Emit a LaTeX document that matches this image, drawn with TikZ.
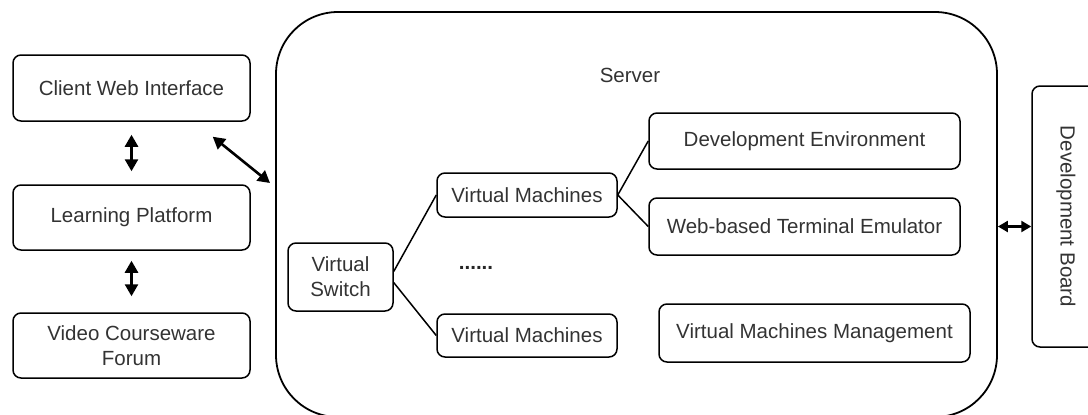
\documentclass[tikz,border=0pt]{standalone}
\usepackage{fontspec}
\setmainfont{Liberation Sans}
\usetikzlibrary{arrows.meta}

\begin{document}
\begin{tikzpicture}[x = 1pt, y = -1pt,
		box/.style = {draw, rounded corners = 8, line width = 1.5pt, align = center, inner sep = 0, text = black!80, font = \fontsize{20.5}{25}\selectfont},
		link/.style = {line width = 1.5pt},
		dbl/.style = {{Triangle[length = 12pt, width = 13pt]}-{Triangle[length = 12pt, width = 13pt]}, line width = 2.6pt}]
			\useasboundingbox (0,0) rectangle (1088,415);
			\clip (0,0) rectangle (1088,415);
			
			\node[box, minimum width = 237, minimum height = 66] (cwi) at (131.5,88) {Client Web Interface};
			\node[box, minimum width = 237, minimum height = 65] (lp) at (131.5,217.5) {Learning Platform};
			\node[box, minimum width = 237, minimum height = 65] (vcf) at (131.5,345.5) {Video Courseware\\Forum};
			
			\node[draw, rounded corners = 62, line width = 1.8pt, minimum width = 721, minimum height = 405] (server) at (636.5,214.5) {}; % server frame
			\node[text = black!80, font = \fontsize{20.5}{25}\selectfont] (srvlabel) at (630,75) {Server};
			
			\node[box, minimum width = 105, minimum height = 68] (vs) at (340.5,277) {Virtual\\Switch};
			\node[box, minimum width = 180, minimum height = 44] (vm1) at (527,195) {Virtual Machines};
			\node[box, minimum width = 180, minimum height = 43] (vm2) at (527,335.5) {Virtual Machines};
			\node[text = black!85, font = \fontsize{20.5}{25}\bfseries] (dots) at (476,268) {......};
			
			\node[box, minimum width = 311, minimum height = 56] (dev) at (804.5,141) {Development Environment};
			\node[box, minimum width = 311, minimum height = 57] (web) at (804.5,226.5) {Web-based Terminal Emulator};
			\node[box, minimum width = 311, minimum height = 58] (mgmt) at (814.5,333) {Virtual Machines Management};
			
			\node[box, rotate = -90, minimum width = 261, minimum height = 68] (board) at (1066,216.5) {Development Board};
			
			\draw[link] (vs.6) -- (vm1.west);
			\draw[link] (vs.-6) -- (vm2.west);
			\draw[link] (vm1.east) -- (dev.west);
			\draw[link] (vm1.east) -- (web.west);
			
			\draw[dbl, shorten <= 13, shorten >= 13] (cwi) -- (lp);
			\draw[dbl, shorten <= 10, shorten >= 16] (lp) -- (vcf);
			
			\coordinate (srvport) at (270,183);
			\draw[dbl] ([shift = {(-38,15)}]cwi.south east) -- (srvport); % to server
			\draw[dbl, {Triangle[length = 10pt, width = 11pt]}-{Triangle[length = 10pt, width = 11pt]}, line width = 2.3pt] (server.east |- web) -- (board.south |- web);
		\end{tikzpicture}
\end{document}
